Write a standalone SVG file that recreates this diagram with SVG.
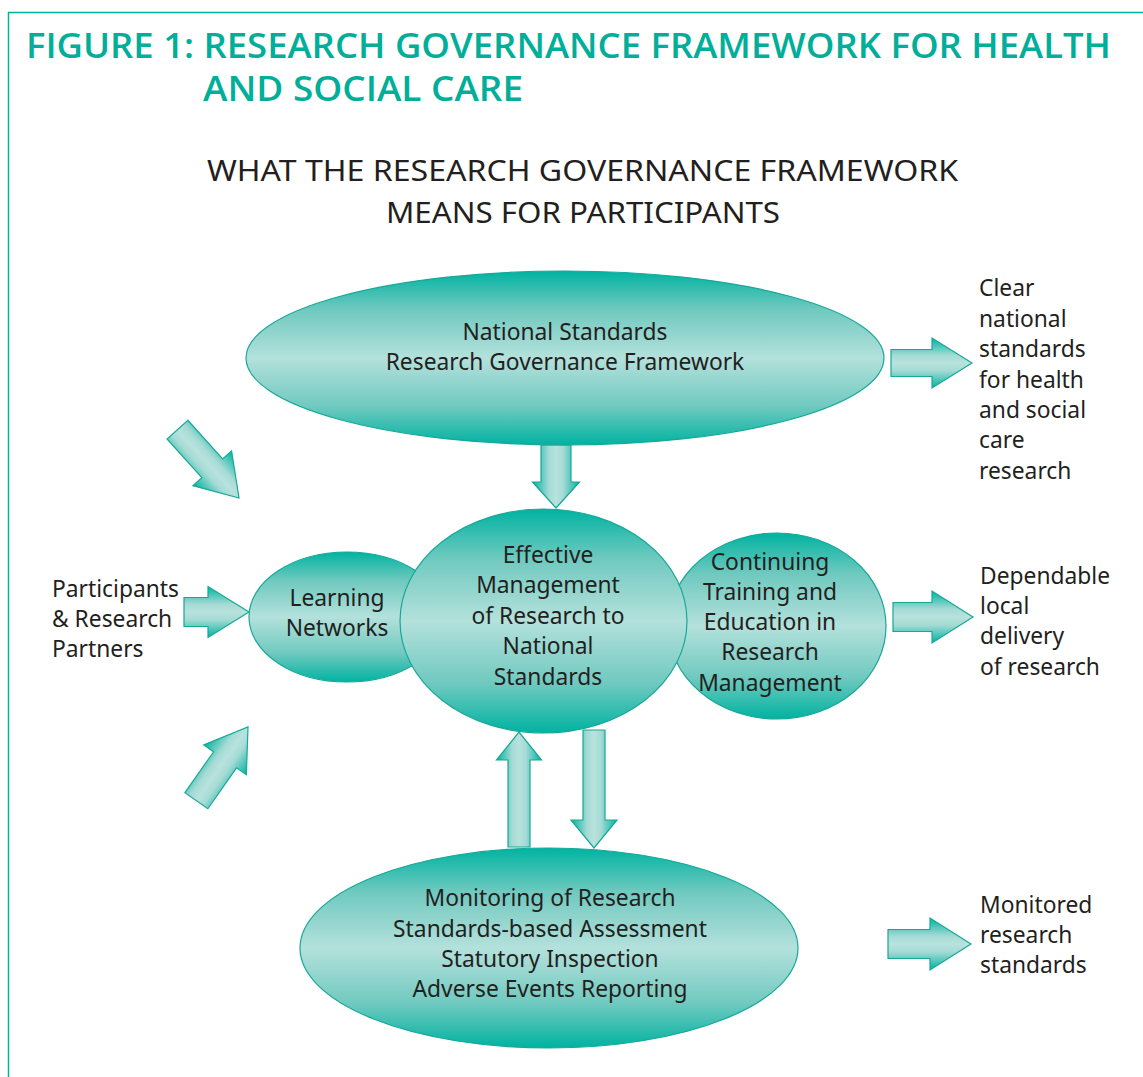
<svg xmlns="http://www.w3.org/2000/svg" width="1143" height="1077" viewBox="0 0 1143 1077">
<style>
.t{font-family:"Noto Sans","Open Sans","DejaVu Sans",sans-serif;font-size:22.8px;fill:#231f20;}
.c{text-anchor:middle;}
.title{font-family:"Open Sans","Noto Sans",sans-serif;font-weight:600;font-size:34px;fill:#00ae99;}
.sub{font-family:"Noto Sans","Open Sans",sans-serif;font-size:29px;fill:#231f20;}
.ell{fill:url(#eg);stroke:#17a898;stroke-width:1.2;}
.arr{fill:url(#ag);stroke:#17a898;stroke-width:1.2;stroke-linejoin:miter;}
</style>
<defs>
<linearGradient id="eg" x1="0" y1="0" x2="0" y2="1">
<stop offset="0" stop-color="#00b3a1"/>
<stop offset="0.22" stop-color="#6fc9bf"/>
<stop offset="0.5" stop-color="#b4e1dc"/>
<stop offset="0.78" stop-color="#6fc9bf"/>
<stop offset="1" stop-color="#00b3a1"/>
</linearGradient>
<linearGradient id="ag" x1="0" y1="0" x2="0" y2="1">
<stop offset="0" stop-color="#00b3a1"/>
<stop offset="0.35" stop-color="#a6dbd5"/>
<stop offset="0.5" stop-color="#b8e2dd"/>
<stop offset="0.65" stop-color="#a6dbd5"/>
<stop offset="1" stop-color="#00b3a1"/>
</linearGradient>
</defs>
<rect width="1143" height="1077" fill="#ffffff"/>
<path d="M8.5 1077 V12.5 H1143" fill="none" stroke="#00b39e" stroke-width="1.5"/>
<text class="title" x="26" y="58" textLength="1085" lengthAdjust="spacingAndGlyphs">FIGURE 1: RESEARCH GOVERNANCE FRAMEWORK FOR HEALTH</text>
<text class="title" x="203" y="101" textLength="320" lengthAdjust="spacingAndGlyphs">AND SOCIAL CARE</text>
<text class="sub" x="207" y="181" textLength="751" lengthAdjust="spacingAndGlyphs">WHAT THE RESEARCH GOVERNANCE FRAMEWORK</text>
<text class="sub" x="386" y="223" textLength="394" lengthAdjust="spacingAndGlyphs">MEANS FOR PARTICIPANTS</text>

<g id="connectors">
<polygon class="arr" points="-92,-14 -40,-14 -40,-26 0,0 -40,26 -40,14 -92,14" transform="translate(239,498) rotate(48)"/>
<polygon class="arr" points="-90,-14 -40,-14 -40,-26 0,0 -40,26 -40,14 -90,14" transform="translate(248,727) rotate(-55)"/>
<polygon class="arr" points="-65,-14.5 -41,-14.5 -41,-25.5 0,0 -41,25.5 -41,14.5 -65,14.5" transform="translate(249,612)"/>
<polygon class="arr" points="-81,-13.5 -40,-13.5 -40,-25 0,0 -40,25 -40,13.5 -81,13.5" transform="translate(972,363)"/>
<polygon class="arr" points="-80,-14.5 -41,-14.5 -41,-26 0,0 -41,26 -41,14.5 -80,14.5" transform="translate(973,617)"/>
<polygon class="arr" points="-83,-14.5 -41,-14.5 -41,-26 0,0 -41,26 -41,14.5 -83,14.5" transform="translate(971,944)"/>
<polygon class="arr" points="-63,-15 -26,-15 -26,-23.5 0,0 -26,23.5 -26,15 -63,15" transform="translate(556,508) rotate(90)"/>
<polygon class="arr" points="-115,-11 -28,-11 -28,-22.5 0,0 -28,22.5 -28,11 -115,11" transform="translate(519,732) rotate(-90)"/>
<polygon class="arr" points="-118,-11 -28,-11 -28,-23 0,0 -28,23 -28,11 -118,11" transform="translate(594,848) rotate(90)"/>
</g>

<g id="national-standards">
<ellipse class="ell" cx="565" cy="358" rx="319" ry="87"/>
<text class="t c" x="565" y="340">National Standards</text>
<text class="t c" x="565" y="370">Research Governance Framework</text>
</g>

<g id="learning-networks">
<ellipse class="ell" cx="347" cy="617" rx="98" ry="65"/>
<text class="t c" x="337" y="606">Learning</text>
<text class="t c" x="337" y="636">Networks</text>
</g>

<g id="continuing-training">
<ellipse class="ell" cx="777" cy="626" rx="109" ry="93"/>
<text class="t c" x="770" y="570">Continuing</text>
<text class="t c" x="770" y="600">Training and</text>
<text class="t c" x="770" y="630">Education in</text>
<text class="t c" x="770" y="660">Research</text>
<text class="t c" x="770" y="691">Management</text>
</g>

<g id="effective-management">
<ellipse class="ell" cx="543.5" cy="621" rx="143.5" ry="112"/>
<text class="t c" x="548" y="563">Effective</text>
<text class="t c" x="548" y="593">Management</text>
<text class="t c" x="548" y="624">of Research to</text>
<text class="t c" x="548" y="654">National</text>
<text class="t c" x="548" y="685">Standards</text>
</g>

<g id="monitoring">
<ellipse class="ell" cx="549" cy="948" rx="249" ry="100"/>
<text class="t c" x="550" y="906">Monitoring of Research</text>
<text class="t c" x="550" y="937">Standards-based Assessment</text>
<text class="t c" x="550" y="967">Statutory Inspection</text>
<text class="t c" x="550" y="997">Adverse Events Reporting</text>
</g>

<g id="participants">
<text class="t" x="52" y="597">Participants</text>
<text class="t" x="52" y="627">&amp; Research</text>
<text class="t" x="52" y="657">Partners</text>
</g>

<g id="clear-standards">
<text class="t" x="979" y="296">Clear</text>
<text class="t" x="979" y="327">national</text>
<text class="t" x="979" y="357">standards</text>
<text class="t" x="979" y="388">for health</text>
<text class="t" x="979" y="418">and social</text>
<text class="t" x="979" y="448">care</text>
<text class="t" x="979" y="479">research</text>
</g>

<g id="dependable-delivery">
<text class="t" x="980" y="584">Dependable</text>
<text class="t" x="980" y="614">local</text>
<text class="t" x="980" y="644">delivery</text>
<text class="t" x="980" y="675">of research</text>
</g>

<g id="monitored-standards">
<text class="t" x="980" y="913">Monitored</text>
<text class="t" x="980" y="943">research</text>
<text class="t" x="980" y="973">standards</text>
</g>
</svg>
